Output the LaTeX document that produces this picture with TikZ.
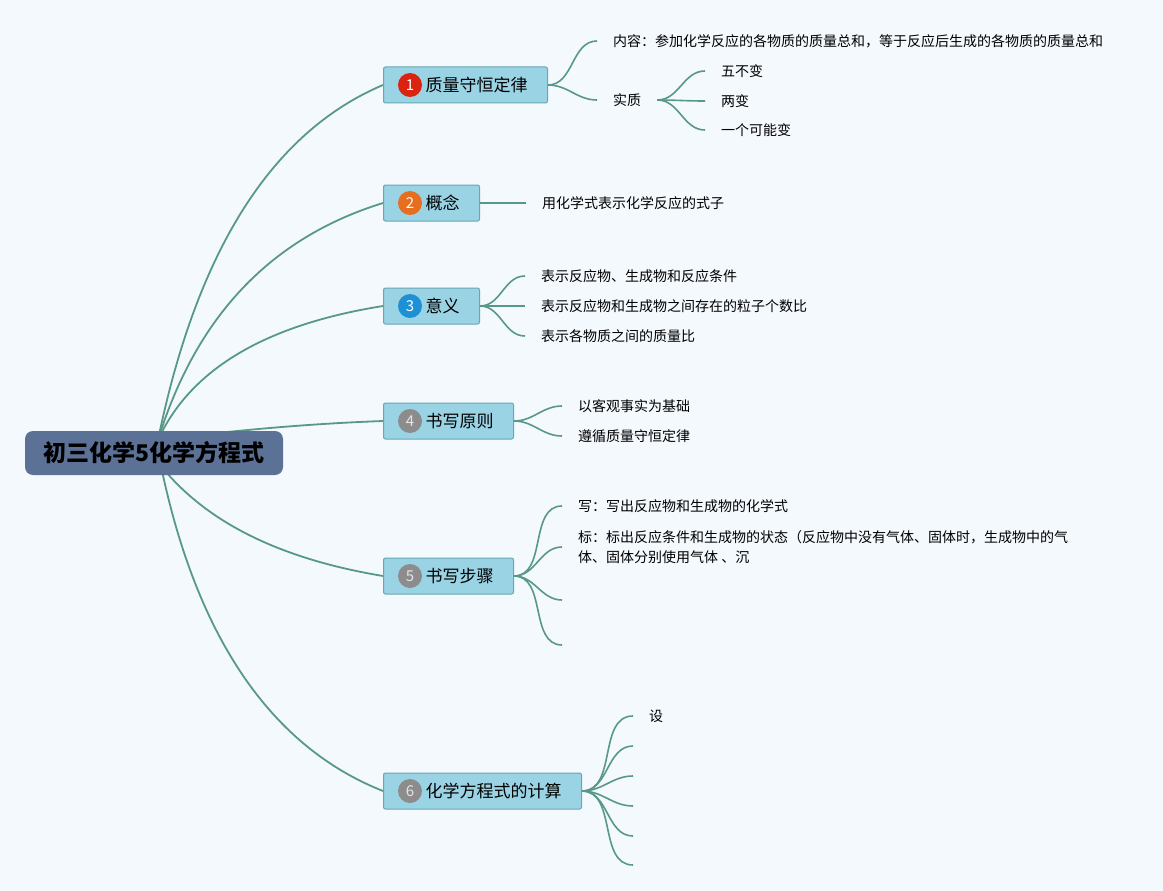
\documentclass[tikz,border=0pt]{standalone}
\usepackage{fontspec}
\setmainfont{Noto Sans CJK SC}
\usepackage{xcolor}
\usepackage{tikz}
\usetikzlibrary{positioning}
\usetikzlibrary{backgrounds}
\definecolor{bgcol}{RGB}{244,249,254}
\definecolor{rootcol}{RGB}{92,113,150}
\definecolor{branchcol}{RGB}{153,211,228}
\definecolor{branchline}{RGB}{104,166,178}
\definecolor{linkcol}{RGB}{88,152,134}
\definecolor{badgered}{RGB}{218,36,16}
\definecolor{badgeorange}{RGB}{230,110,30}
\definecolor{badgeblue}{RGB}{30,144,214}
\definecolor{badgegray}{RGB}{140,140,140}
\tikzset{root/.style={rectangle, rounded corners=8pt, fill=rootcol, minimum width=258pt, minimum height=44pt, inner sep=0pt, font=\fontsize{23}{26}\selectfont\bfseries}}
\tikzset{branch/.style={rectangle, rounded corners=2pt, draw=branchline, fill=branchcol, line width=1pt, anchor=west, minimum height=36pt, inner xsep=20pt, font=\fontsize{17}{20}\selectfont}}
\tikzset{badge/.style={circle, minimum size=24pt, inner sep=0pt, text=white, font=\fontsize{15}{15}\selectfont}}
\tikzset{leaf/.style={anchor=west, inner xsep=16pt, inner ysep=2pt, align=left, font=\fontsize{14}{20}\selectfont}}
\tikzset{trunk/.style={draw=linkcol, line width=1.8pt}}
\tikzset{twig/.style={draw=linkcol, line width=1.6pt}}

\begin{document}
\begin{tikzpicture}[x=1pt, y=-1pt]
		\useasboundingbox (0,0) rectangle (1163,891);

		% main topic and branches
		\node[root] at (154,453) (root) {初三化学5化学方程式};
		\coordinate (hubU) at (158,440);
		\coordinate (hubD) at (161,466);

		\node[branch] at (383,85) (b1) {\hspace*{22pt}质量守恒定律};
		\node[branch] at (383,203) (b2) {\hspace*{22pt}概念};
		\node[branch] at (383,306) (b3) {\hspace*{22pt}意义};
		\node[branch] at (383,421) (b4) {\hspace*{22pt}书写原则};
		\node[branch] at (383,576) (b5) {\hspace*{22pt}书写步骤};
		\node[branch] at (383,791) (b6) {\hspace*{22pt}化学方程式的计算};

		\node[badge, fill=badgered] at ([xshift=27pt]b1.west) (n1) {1};
		\node[badge, fill=badgeorange] at ([xshift=27pt]b2.west) (n2) {2};
		\node[badge, fill=badgeblue] at ([xshift=27pt]b3.west) (n3) {3};
		\node[badge, fill=badgegray, text=white!80!gray] at ([xshift=27pt]b4.west) (n4) {4};
		\node[badge, fill=badgegray, text=white!80!gray] at ([xshift=27pt]b5.west) (n5) {5};
		\node[badge, fill=badgegray, text=white!80!gray] at ([xshift=27pt]b6.west) (n6) {6};

		% subtopics
		\node[leaf] at (597,41) (neirong) {内容：参加化学反应的各物质的质量总和，等于反应后生成的各物质的质量总和};
		\node[leaf] at (597,100) (shizhi) {实质};
		\node[leaf] at (705,71) (wu) {五不变};
		\node[leaf] at (705,101) (liang) {两变};
		\node[leaf] at (705,130) (yige) {一个可能变};

		\node[leaf] at (526,203) (gainian) {用化学式表示化学反应的式子};

		\node[leaf] at (525,276) (yiyi1) {表示反应物、生成物和反应条件};
		\node[leaf] at (525,306) (yiyi2) {表示反应物和生成物之间存在的粒子个数比};
		\node[leaf] at (525,336) (yiyi3) {表示各物质之间的质量比};

		\node[leaf] at (562,406) (yuanze1) {以客观事实为基础};
		\node[leaf] at (562,436) (yuanze2) {遵循质量守恒定律};

		\node[leaf] at (562,506) (xie) {写：写出反应物和生成物的化学式};
		\node[leaf] at (562,547) (biao) {标：标出反应条件和生成物的状态（反应物中没有气体、固体时，生成物中的气\\体、固体分别使用气体 、沉};
		\coordinate (bu3) at (562,600);
		\coordinate (bu4) at (562,645);

		\node[leaf] at (633,716) (she) {设};
		\coordinate (js2) at (633,746);
		\coordinate (js3) at (633,776);
		\coordinate (js4) at (633,806);
		\coordinate (js5) at (633,836);
		\coordinate (js6) at (633,865);

		\begin{pgfonlayer}{background}
		\fill[bgcol] (0,0) rectangle (1163,891);
		\draw[trunk] (hubU) .. controls (197,250) and (272,132) .. (b1.west);
		\draw[trunk] (hubU) .. controls (196,317) and (270,238) .. (b2.west);
		\draw[trunk] (hubU) .. controls (190,370) and (264,325) .. (b3.west);
		\draw[trunk] (hubU) .. controls (220,432) and (300,424) .. (b4.west);
		\draw[trunk] (hubD) .. controls (207,523) and (281,559) .. (b5.west);
		\draw[trunk] (hubD) .. controls (197,639) and (272,747) .. (b6.west);
		\end{pgfonlayer}

		\draw[twig] (b1.east) to[out=0,in=180] (neirong.west);
		\draw[twig] (b1.east) to[out=0,in=180] (shizhi.west);
		\draw[twig] (shizhi.east) to[out=0,in=180] (wu.west);
		\draw[twig] (shizhi.east) to[out=0,in=180] (liang.west);
		\draw[twig] (shizhi.east) to[out=0,in=180] (yige.west);
		\draw[twig] (b2.east) -- (gainian.west);
		\draw[twig] (b3.east) to[out=0,in=180] (yiyi1.west);
		\draw[twig] (b3.east) to[out=0,in=180] (yiyi2.west);
		\draw[twig] (b3.east) to[out=0,in=180] (yiyi3.west);
		\draw[twig] (b4.east) to[out=0,in=180] (yuanze1.west);
		\draw[twig] (b4.east) to[out=0,in=180] (yuanze2.west);
		\draw[twig] (b5.east) to[out=0,in=180] (xie.west);
		\draw[twig] (b5.east) to[out=0,in=180] (biao.west);
		\draw[twig] (b5.east) to[out=0,in=180] (bu3);
		\draw[twig] (b5.east) to[out=0,in=180] (bu4);
		\draw[twig] (b6.east) to[out=0,in=180] (she.west);
		\draw[twig] (b6.east) to[out=0,in=180] (js2);
		\draw[twig] (b6.east) to[out=0,in=180] (js3);
		\draw[twig] (b6.east) to[out=0,in=180] (js4);
		\draw[twig] (b6.east) to[out=0,in=180] (js5);
		\draw[twig] (b6.east) to[out=0,in=180] (js6);
		\end{tikzpicture}
\end{document}
